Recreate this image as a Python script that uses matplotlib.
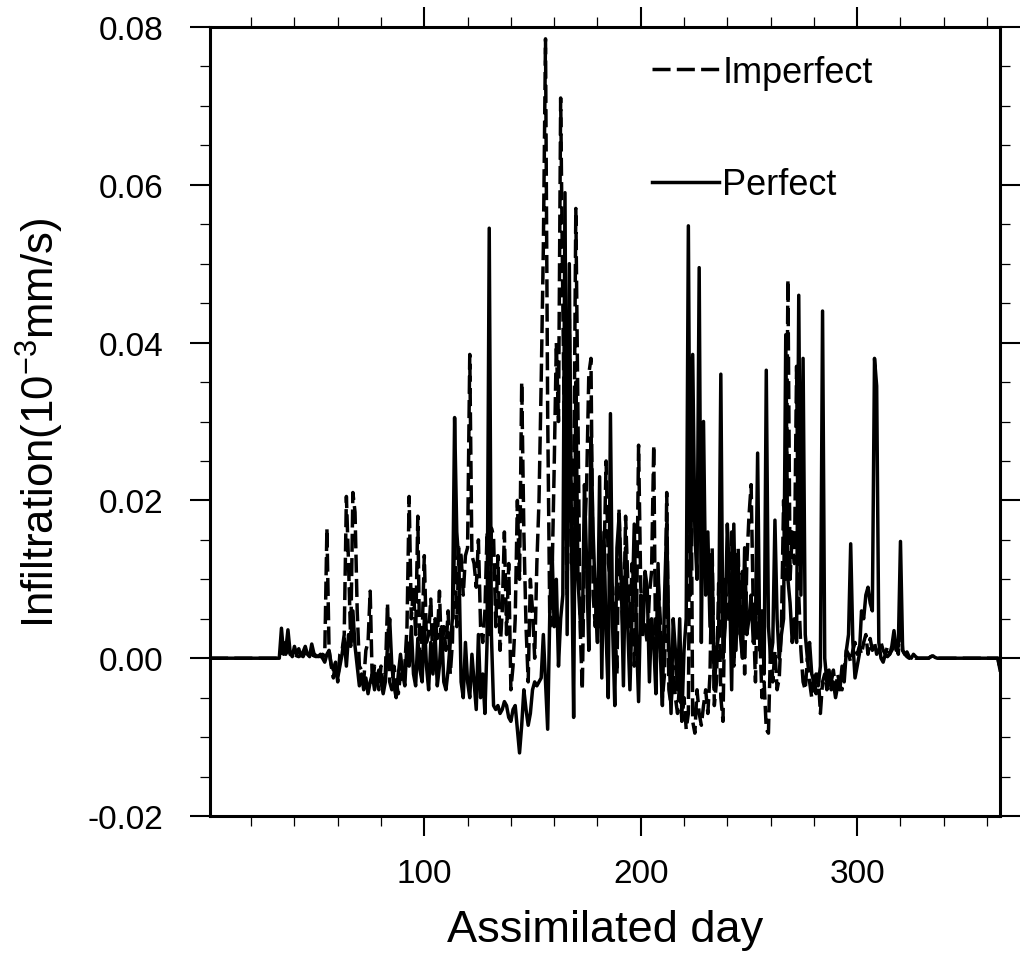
import numpy as np
import matplotlib
matplotlib.use("Agg")
import matplotlib.pyplot as plt
from matplotlib.ticker import MultipleLocator, FormatStrFormatter

plt.rcParams['font.family'] = ['Liberation Sans', 'DejaVu Sans']
plt.rcParams['axes.unicode_minus'] = False
plt.rcParams['mathtext.default'] = 'regular'

# day of year 1..366
days = np.arange(1, 367)

# infiltration, in units of 0.001 (10 days per row)
perfect_milli = [
    0, 0, 0, 0, 0, 0, 0, 0, 0, 0,
    0, 0, 0, 0, 0, 0, 0, 0, 0, 0,
    0, 0, 0, 0, 0, 0, 0, 0, 0, 0,
    0, 0, 0, 3.8, 0.5, 1.0, 3.6, 0.8, 0.2, 1.5,
    0.5, 1.2, 0.3, 0.8, 1.5, 0.5, 0.2, 1.8, 0.6, 0.3,
    0.2, 0.5, 0.0, -0.5, 0.5, 1.0, -0.8, -1.5, -0.5, -2.5,
    -1.0, 0.5, 2.5, -1.0, 3.0, 1.5, 6.0, 1.5, -1.0, -3.5,
    -2.0, -4.0, -2.5, -4.5, -3.0, -2.0, -4.0, -2.5, -1.5, -3.0,
    -4.5, -3.0, 1.5, 5.0, -1.0, -3.5, -5.0, -2.0, 0.5, -2.0,
    -3.5, 2.0, -1.0, 4.0, -2.0, -3.5, 2.5, -1.5, -3.0, 5.0,
    -1.0, -4.0, 2.0, -2.0, 3.0, -3.5, -1.0, 4.0, -3.0, -4.0,
    -1.5, 2.0, 5.0, 30.5, 16.0, 12.0, -3.0, -5.0, 2.0, -3.0,
    -5.0, 0.5, -3.0, -6.5, 3.0, -5.0, -2.0, -7.0, 2.0, 54.5,
    3.0, -6.0, -6.5, -6.0, -7.0, -6.5, -5.5, -6.0, -7.5, -8.0,
    -6.5, -6.0, -9.0, -12.0, -8.5, -4.0, -6.5, -8.5, -7.0, -4.0,
    -3.0, -3.5, -3.0, -2.5, 3.0, -3.0, -9.0, 6.0, 14.0, 4.0,
    10.0, -1.0, 5.0, 8.0, 59.0, 3.0, 50.0, 15.0, -7.5, 35.0,
    10.0, 5.0, 3.0, 22.0, 12.0, 1.0, 28.0, 16.0, 8.0, 2.0,
    23.0, -2.5, 16.0, 3.0, -5.0, 31.0, 4.0, -6.0, 14.0, 18.0,
    10.0, -3.5, 14.0, 4.0, -4.0, 6.0, 17.0, 3.0, -5.5, 8.0,
    3.0, 11.0, 9.0, -3.0, 5.0, 2.0, -4.5, 12.0, 1.0, -6.0,
    8.0, 17.0, 2.0, -7.0, 5.0, 1.0, -4.0, 5.0, -7.5, 1.0,
    5.0, 54.8, 8.0, 38.5, 16.0, 10.0, 49.5, 2.0, 30.0, 8.0,
    16.0, 4.0, 12.0, -4.0, 1.0, 3.0, 36.0, 0.0, 4.0, 17.0,
    10.0, -4.0, 17.0, 1.0, 12.0, 3.0, 0.0, 14.0, 3.0, 5.0,
    8.0, 2.0, 4.0, 26.0, 1.0, 6.0, -2.0, 36.5, 4.0, 0.0,
    2.0, 17.5, 5.0, 0.0, 3.0, 5.0, 41.0, 10.0, 7.0, 2.0,
    5.0, 2.0, 46.0, 8.0, 38.0, 3.0, 0.0, 2.0, -2.0, -3.0,
    -2.0, -3.5, -1.0, 44.0, 0.0, -3.0, -1.5, -4.0, -3.0, -5.0,
    -3.5, -4.0, -1.0, -3.0, 1.0, 3.0, 14.5, 2.0, -2.5, -1.0,
    0.5, 6.0, 5.0, 8.0, 9.0, 7.0, 6.0, 38.0, 34.5, 2.0,
    0.0, -0.5, 0.5, 0.2, 0.5, 1.5, 3.5, 1.0, 1.5, 14.8,
    1.0, 0.5, 0.8, 0.2, 0.0, 0.5, 0.2, 0.0, 0.0, 0.0,
    0.0, 0.0, 0.0, 0.2, 0.3, 0.1, 0.0, 0.0, 0.0, 0.0,
    0, 0, 0, 0, 0, 0, 0, 0, 0, 0,
    0, 0, 0, 0, 0, 0, 0, 0, 0, 0,
    0, 0, 0, 0, 0, -1.5,
]

imperfect_milli = [
    0, 0, 0, 0, 0, 0, 0, 0, 0, 0,
    0, 0, 0, 0, 0, 0, 0, 0, 0, 0,
    0, 0, 0, 0, 0, 0, 0, 0, 0, 0,
    0, 0, 0, 1.0, 2.0, 0.5, 1.5, 0.5, 0.2, 0.5,
    0.3, 0.2, 0.5, 0.2, 0.8, 0.3, 0.2, 0.5, 0.3, 0.2,
    0.3, 0.2, 0.5, 0.3, 16.5, 1.0, -1.0, -2.5, -0.5, -3.0,
    0.5, 1.0, 3.0, 20.5, 12.0, 2.0, 21.0, 18.5, 6.0, -1.0,
    -1.5, -3.0, 1.0, 2.0, 8.5, -3.5, -1.0, -2.5, -4.0, -1.0,
    -3.5, -2.0, 7.0, -3.0, -4.0, -1.0, -3.0, -4.5, -2.0, -3.0,
    -1.0, 4.0, 20.5, 5.0, 9.0, 3.0, 18.0, -1.5, 3.0, 13.0,
    2.0, 3.0, 7.5, -1.0, 5.0, 2.5, 8.5, 0.0, 4.0, 1.0,
    6.0, -2.0, 2.0, 16.0, 4.0, 14.0, 13.0, 8.0, 13.0, 14.0,
    38.5, 13.0, 12.0, 9.0, 15.0, 4.0, 2.0, 6.0, 16.0, 3.0,
    16.5, 15.5, 4.0, 13.0, 1.0, 6.0, 16.0, 3.0, 12.0, -4.0,
    -1.0, 5.0, 20.0, 10.0, 35.0, 16.0, 4.0, -3.0, 10.0, 6.0,
    0.0, 12.0, 20.0, 35.0, 52.0, 78.5, 31.0, 4.0, 10.0, 24.0,
    40.0, 30.0, 71.0, 45.0, 22.0, 8.0, 43.0, 12.0, 20.0, 57.0,
    30.0, 4.0, -4.0, 15.0, 22.0, 36.0, 38.0, 8.0, 4.0, 10.0,
    4.0, 15.0, 12.0, 25.0, 12.0, 10.0, 9.0, 4.0, -2.0, 19.0,
    8.0, 2.5, 18.0, 10.0, 4.0, 12.0, -1.0, 4.0, 27.0, 9.0,
    5.0, 4.0, 2.0, 8.0, 11.0, 27.0, -3.0, 10.0, 5.0, -5.0,
    -2.0, 21.0, -4.0, -6.0, -1.0, -5.0, -7.0, -3.0, -8.0, -5.0,
    -9.0, -7.0, 38.0, -8.0, -9.5, -4.0, -7.0, -8.5, -6.0, -4.0,
    -7.0, -2.0, 14.0, -6.0, -3.0, 9.5, -5.0, -8.0, 10.0, 6.0,
    4.5, 16.0, -1.0, 6.0, 14.0, 3.0, 11.0, -2.0, 12.0, 18.0,
    22.0, 6.0, -3.0, 10.0, 3.0, -5.0, -3.0, -9.0, -9.5, 2.0,
    -3.0, 1.0, -4.0, -2.5, 4.0, 20.0, 10.0, 48.0, 10.0, 16.0,
    12.0, 37.0, 8.0, 1.0, -3.0, -4.0, 0.0, -3.0, -5.0, -2.0,
    -4.5, -2.0, -7.0, -3.0, -2.0, -4.0, -2.5, -3.0, -1.5, -4.0,
    -2.0, -3.5, -4.0, -1.5, 1.0, 0.5, -0.5, 1.0, 2.0, 0.5,
    1.5, 0.5, 2.0, 3.0, 0.5, 2.5, 1.0, 2.0, 0.5, 1.0,
    2.0, 1.0, 0.5, 1.5, 0.5, 1.0, 1.5, 2.5, 0.5, 5.0,
    1.0, 0.5, 0.2, 0.0, 0.0, 0.2, 0.0, 0.0, 0.0, 0.0,
    0.0, 0.0, 0.0, 0.2, 0.3, 0.1, 0.0, 0.0, 0.0, 0.0,
    0, 0, 0, 0, 0, 0, 0, 0, 0, 0,
    0, 0, 0, 0, 0, 0, 0, 0, 0, 0,
    0, 0, 0, 0, 0, -1.5,
]

imperfect = np.array(imperfect_milli) / 1000.0
perfect = np.array(perfect_milli) / 1000.0

fig = plt.figure(figsize=(10.24, 9.62), dpi=100)
ax = fig.add_axes([0.2051, 0.1507, 0.7715, 0.8202])

ax.plot(days, imperfect, color='black', lw=2.5, linestyle=(0, (5.2, 1.8)),
        label='Imperfect')
ax.plot(days, perfect, color='black', lw=2.5, label='Perfect')

ax.set_xlim(1, 366)
ax.set_ylim(-0.02, 0.08)
ax.xaxis.set_major_locator(MultipleLocator(100))
ax.xaxis.set_minor_locator(MultipleLocator(20))
ax.yaxis.set_major_locator(MultipleLocator(0.02))
ax.yaxis.set_minor_locator(MultipleLocator(0.005))
ax.yaxis.set_major_formatter(FormatStrFormatter('%.2f'))

for sp in ax.spines.values():
    sp.set_linewidth(2.2)

ax.tick_params(which='both', direction='out', top=True, right=True)
ax.tick_params(which='major', length=14.4, width=1.5, labelsize=24)
ax.tick_params(which='minor', length=7, width=0.9)
ax.tick_params(axis='y', which='major', pad=19)
ax.tick_params(axis='x', which='major', pad=16)

ax.set_xlabel('Assimilated day', fontsize=32.5, labelpad=14)
ax.set_ylabel('Infiltration(10$^{-3}$mm/s)', fontsize=31.5, labelpad=16)

leg = ax.legend(loc='upper left', bbox_to_anchor=(0.5595, 0.965), frameon=False,
                fontsize=26, handlelength=1.85, handletextpad=0.1,
                labelspacing=2.15, borderpad=0, borderaxespad=0)

fig.savefig('out.png', dpi=100)
